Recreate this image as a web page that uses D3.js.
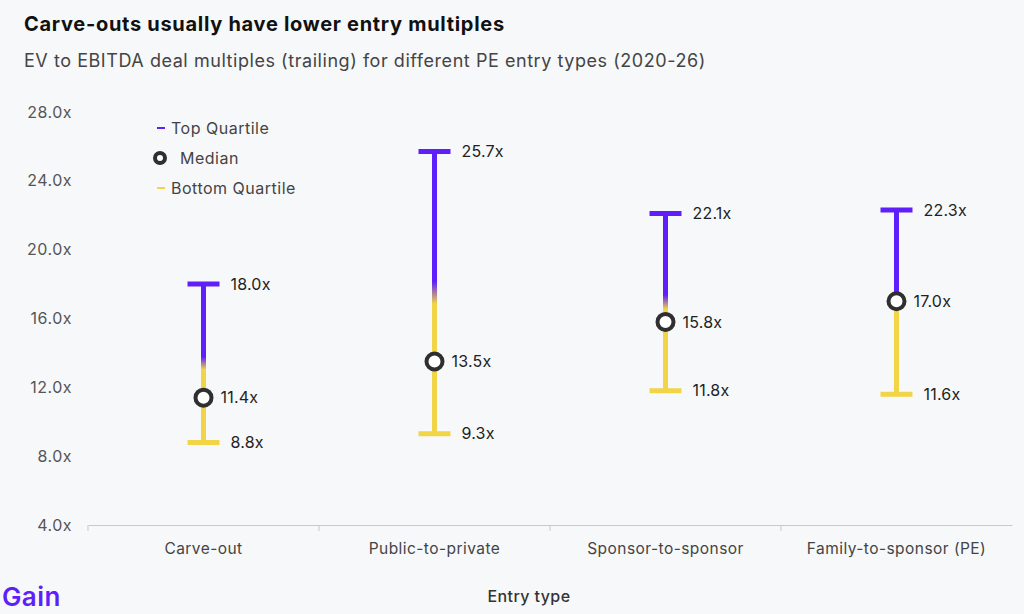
<!DOCTYPE html>
<html>
<head>
<meta charset="utf-8">
<script src="https://cdn.jsdelivr.net/npm/d3@7"></script>
<style>
  body { margin: 0; background: #f7f8fa; font-family: Inter, "Noto Sans", sans-serif; }
</style>
</head>
<body>
<div id="chart"></div>
<script>
// data
var entryTypes = ["Carve-out", "Public-to-private", "Sponsor-to-sponsor", "Family-to-sponsor (PE)"];
var topQuartile = [18.0, 25.7, 22.1, 22.3];
var medianValues = [11.4, 13.5, 15.8, 17.0];
var bottomQuartile = [8.8, 9.3, 11.8, 11.6];
var yTicks = [4, 8, 12, 16, 20, 24, 28];

var svgWidth = 1024;
var svgHeight = 614;

var margin = { top: 112, right: 12, bottom: 89, left: 88 };

var purple = "#5f1ffb";
var yellow = "#f2d546";
var dark = "#2f2f2f";

var svg = d3.select("#chart")
  .append("svg")
  .attr("width", svgWidth)
  .attr("height", svgHeight);

svg.append("rect")
  .attr("width", svgWidth)
  .attr("height", svgHeight)
  .attr("fill", "#f7f8fa");

// titles
svg.append("text")
  .attr("x", 24)
  .attr("y", 31)
  .attr("font-size", "20px")
  .attr("font-weight", 700)
  .attr("letter-spacing", "0.7px")
  .attr("fill", "#111")
  .text("Carve-outs usually have lower entry multiples");

svg.append("text")
  .attr("x", 24)
  .attr("y", 67)
  .attr("font-size", "18px")
  .attr("letter-spacing", "0.55px")
  .attr("fill", "#444")
  .text("EV to EBITDA deal multiples (trailing) for different PE entry types (2020-26)");

var data = entryTypes.map(function(d, i) {
  return { type: d, top: topQuartile[i], median: medianValues[i], bottom: bottomQuartile[i] };
});

var xScale = d3.scaleBand()
  .domain(entryTypes)
  .range([margin.left, svgWidth - margin.right]);

var yScale = d3.scaleLinear()
  .domain([4, 28])
  .range([svgHeight - margin.bottom, margin.top]);

// x axis
var xAxis = svg.append("g")
  .attr("transform", `translate(0, ${svgHeight - margin.bottom})`)
  .call(d3.axisBottom(xScale).tickSize(0).tickPadding(18));

xAxis.select(".domain").attr("stroke", "#c9c9c9");
xAxis.selectAll("text")
  .attr("font-family", "Inter, sans-serif")
  .attr("font-size", "15.5px")
  .attr("letter-spacing", "0.45px")
  .attr("fill", "#444");

// band boundary ticks
svg.append("g")
  .selectAll("line")
  .data(entryTypes)
  .enter()
  .append("line")
  .attr("x1", d => xScale(d))
  .attr("x2", d => xScale(d))
  .attr("y1", svgHeight - margin.bottom)
  .attr("y2", svgHeight - margin.bottom + 6)
  .attr("stroke", "#c9c9c9");

// y axis labels
svg.append("g")
  .selectAll("text")
  .data(yTicks)
  .enter()
  .append("text")
  .attr("x", 72)
  .attr("y", d => yScale(d))
  .attr("dy", "0.35em")
  .attr("text-anchor", "end")
  .attr("font-size", "16px")
  .attr("letter-spacing", "0.5px")
  .attr("fill", "#555")
  .text(d => d.toFixed(1) + "x");

// gradients, one per whisker
var defs = svg.append("defs");
data.forEach(function(d, i) {
  var g = defs.append("linearGradient")
    .attr("id", "grad" + i)
    .attr("gradientUnits", "userSpaceOnUse")
    .attr("x1", 0).attr("x2", 0)
    .attr("y1", yScale(d.top))
    .attr("y2", yScale(d.bottom));
  g.append("stop").attr("offset", "0.46").attr("stop-color", purple);
  g.append("stop").attr("offset", "0.54").attr("stop-color", yellow);
});

var capHalf = 16;
var groups = svg.selectAll(".whisker")
  .data(data)
  .enter()
  .append("g")
  .attr("class", "whisker");

groups.append("rect")
  .attr("x", d => xScale(d.type) + xScale.bandwidth() / 2 - 2.5)
  .attr("y", d => yScale(d.top))
  .attr("width", 5)
  .attr("height", d => yScale(d.bottom) - yScale(d.top))
  .attr("fill", (d, i) => `url(#grad${i})`);

groups.append("line")
  .attr("x1", d => xScale(d.type) + xScale.bandwidth() / 2 - capHalf)
  .attr("x2", d => xScale(d.type) + xScale.bandwidth() / 2 + capHalf)
  .attr("y1", d => yScale(d.top))
  .attr("y2", d => yScale(d.top))
  .attr("stroke", purple)
  .attr("stroke-width", 5);

groups.append("line")
  .attr("x1", d => xScale(d.type) + xScale.bandwidth() / 2 - capHalf)
  .attr("x2", d => xScale(d.type) + xScale.bandwidth() / 2 + capHalf)
  .attr("y1", d => yScale(d.bottom))
  .attr("y2", d => yScale(d.bottom))
  .attr("stroke", yellow)
  .attr("stroke-width", 5);

groups.append("circle")
  .attr("cx", d => xScale(d.type) + xScale.bandwidth() / 2)
  .attr("cy", d => yScale(d.median))
  .attr("r", 8)
  .attr("fill", "#fff")
  .attr("stroke", dark)
  .attr("stroke-width", 4);

// value labels
function valueLabel(sel, key, dx) {
  sel.append("text")
    .attr("x", d => xScale(d.type) + xScale.bandwidth() / 2 + dx)
    .attr("y", d => yScale(d[key]))
    .attr("dy", "0.35em")
    .attr("font-size", "16px")
    .attr("letter-spacing", "0.2px")
    .attr("fill", "#222")
    .text(d => d[key].toFixed(1) + "x");
}
valueLabel(groups, "top", 27);
valueLabel(groups, "median", 17);
valueLabel(groups, "bottom", 27);

// legend
var legend = svg.append("g");
legend.append("line")
  .attr("x1", 157).attr("x2", 165)
  .attr("y1", 128).attr("y2", 128)
  .attr("stroke", purple).attr("stroke-width", 2);
legend.append("text")
  .attr("x", 171).attr("y", 128).attr("dy", "0.35em")
  .attr("font-size", "16px").attr("letter-spacing", "0.5px").attr("fill", "#444")
  .text("Top Quartile");
legend.append("circle")
  .attr("cx", 160).attr("cy", 158).attr("r", 5)
  .attr("fill", "#fff").attr("stroke", dark).attr("stroke-width", 4);
legend.append("text")
  .attr("x", 180).attr("y", 158).attr("dy", "0.35em")
  .attr("font-size", "16px").attr("letter-spacing", "0.5px").attr("fill", "#444")
  .text("Median");
legend.append("line")
  .attr("x1", 157).attr("x2", 165)
  .attr("y1", 188).attr("y2", 188)
  .attr("stroke", yellow).attr("stroke-width", 2);
legend.append("text")
  .attr("x", 171).attr("y", 188).attr("dy", "0.35em")
  .attr("font-size", "16px").attr("letter-spacing", "0.5px").attr("fill", "#444")
  .text("Bottom Quartile");

// axis title
svg.append("text")
  .attr("x", 529)
  .attr("y", 602)
  .attr("text-anchor", "middle")
  .attr("font-size", "16px")
  .attr("font-weight", 500)
  .attr("letter-spacing", "0.4px")
  .attr("fill", "#333")
  .text("Entry type");

// logo
svg.append("text")
  .attr("x", 2)
  .attr("y", 606)
  .attr("font-size", "26px")
  .attr("font-weight", 600)
  .attr("letter-spacing", "0.4px")
  .attr("fill", purple)
  .text("Gain");
</script>
</body>
</html>
